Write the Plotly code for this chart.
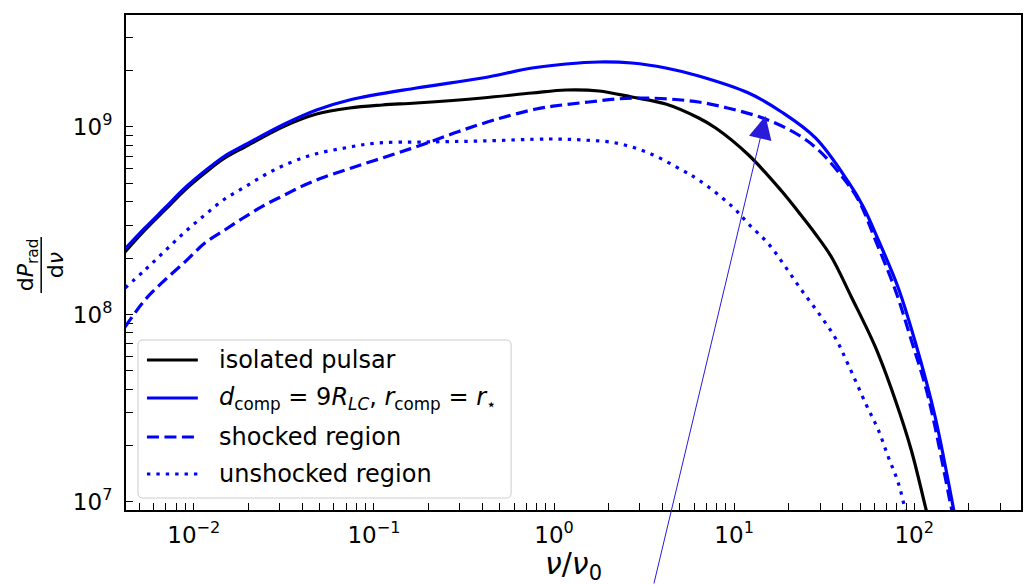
import plotly.graph_objects as go

# Spectral power dP_rad/dnu versus nu/nu0

# isolated pulsar
nu_iso = [0.004147, 0.005352, 0.006908, 0.008916, 0.01151, 0.01485, 0.01917, 0.03193,
          0.04801, 0.07314, 0.1114, 0.1719, 0.3992, 0.7553, 1.166, 1.776, 2.705, 4.174, 6.359,
          7.900, 12.03, 18.34, 22.77, 28.29, 34.69, 44.77, 60.80, 78.48, 96.25, 116.5, 119.6]
P_iso = [2.154e8, 2.823e8, 3.609e8, 4.613e8, 5.684e8, 6.834e8, 7.822e8, 1.012e9,
         1.173e9, 1.263e9, 1.310e9, 1.343e9, 1.428e9, 1.518e9, 1.575e9, 1.556e9, 1.445e9, 1.327e9, 1.117e9,
         9.878e8, 7.091e8, 4.557e8, 3.521e8, 2.687e8, 2.026e8, 1.240e8, 6.710e7, 3.499e7, 1.894e7,
         9.066e6, 8.2e6]

# companion at d_comp = 9 R_LC, total
nu_tot = [0.004147, 0.005352, 0.006908, 0.008916, 0.01151, 0.01485, 0.01917, 0.03193,
          0.04801, 0.07314, 0.1719, 0.3992, 0.7553, 1.166, 1.776, 2.705, 4.174, 6.359,
          12.03, 18.34, 28.29, 43.09, 52.19, 63.18, 81.55, 101.3, 130.7, 164.5, 170.9]
P_tot = [2.236e8, 2.893e8, 3.698e8, 4.728e8, 5.825e8, 7.004e8, 8.017e8, 1.038e9,
         1.232e9, 1.393e9, 1.614e9, 1.825e9, 2.064e9, 2.168e9, 2.222e9, 2.194e9, 2.064e9, 1.871e9,
         1.518e9, 1.202e9, 8.738e8, 5.090e8, 3.745e8, 2.497e8, 1.385e8, 7.134e7, 2.840e7, 9.404e6, 7.82e6]

# shocked region
nu_sh = [0.004147, 0.005352, 0.006908, 0.008916, 0.01151, 0.01485, 0.01917, 0.02474,
         0.03193, 0.04121, 0.05318, 0.08102, 0.1250, 0.1905, 0.2902, 0.4652, 0.7949,
         1.107, 1.563, 2.206, 3.073, 4.336, 6.359, 9.685, 14.94, 22.77, 29.38,
         37.93, 48.96, 60.80, 78.48, 96.25, 119.6, 160.3, 166.6]
P_sh = [8.577e7, 1.195e8, 1.528e8, 1.905e8, 2.406e8, 2.823e8, 3.311e8, 3.837e8,
        4.339e8, 4.906e8, 5.412e8, 6.194e8, 7.091e8, 8.117e8, 9.404e8, 1.090e9, 1.247e9,
        1.310e9, 1.359e9, 1.410e9, 1.428e9, 1.410e9, 1.359e9, 1.247e9, 1.103e9, 9.064e8, 7.540e8,
        5.754e8, 4.080e8, 2.497e8, 1.351e8, 7.311e7, 3.631e7, 9.404e6, 7.92e6]

# unshocked region
nu_un = [0.004147, 0.005352, 0.006908, 0.008916, 0.01151, 0.01485, 0.01917, 0.02474,
         0.03193, 0.04505, 0.06864, 0.1046, 0.1905, 0.3992, 0.9382, 1.429, 2.206, 3.360,
         5.119, 6.359, 9.685, 12.03, 15.53, 19.29, 23.66, 29.38, 36.50, 43.09, 54.22,
         63.18, 71.78, 81.55, 91.46]
P_un = [1.385e8, 1.727e8, 2.182e8, 2.754e8, 3.395e8, 4.130e8, 4.786e8, 5.546e8,
        6.270e8, 7.091e8, 7.727e8, 8.217e8, 8.318e8, 8.421e8, 8.630e8, 8.526e8, 8.217e8, 7.267e8,
        5.897e8, 5.216e8, 3.791e8, 3.039e8, 2.377e8, 1.792e8, 1.351e8, 1.019e8, 7.492e7, 5.379e7, 3.292e7,
        2.421e7, 1.738e7, 1.263e7, 8.12e6]

legend_labels = [
    "isolated pulsar",
    "<i>d</i><sub>comp</sub> = 9<i>R</i><sub><i>LC</i></sub>, <i>r</i><sub>comp</sub> = <i>r</i><sub>⋆</sub>",
    "shocked region",
    "unshocked region",
]

BLUE = "#0000ff"
LW = 3.2
DASH = "12px,5.5px"
DOT = "3.4px,6px"
FONT = "DejaVu Sans"

styles = [
    dict(color="black", dash="solid"),
    dict(color=BLUE, dash="solid"),
    dict(color=BLUE, dash=DASH),
    dict(color=BLUE, dash=DOT),
]
series = [(nu_iso, P_iso), (nu_tot, P_tot), (nu_sh, P_sh), (nu_un, P_un)]

fig = go.Figure()
for (xs, ys), st, name in zip(series, styles, legend_labels):
    fig.add_trace(go.Scatter(
        x=xs, y=ys, mode="lines", name=name, showlegend=False,
        line=dict(color=st["color"], width=LW, dash=st["dash"],
                  shape="spline", smoothing=1.0),
    ))


# log tick marks: labels only at decades
def log_ticks(lo_dec, hi_dec, lo, hi):
    vals, texts = [], []
    for d in range(lo_dec, hi_dec + 1):
        for k in range(1, 10):
            v = k * 10.0 ** d
            if lo <= v <= hi:
                vals.append(v)
                texts.append("10<sup>%s</sup>" % str(d).replace("-", "−") if k == 1 else "")
    return vals, texts


x_lo, x_hi = -2.3767, 2.5928
y_lo, y_hi = 6.9573, 9.5973
xt_vals, xt_text = log_ticks(-3, 2, 10 ** x_lo, 10 ** x_hi)
yt_vals, yt_text = log_ticks(6, 9, 10 ** y_lo, 10 ** y_hi)

axis_common = dict(
    type="log", showgrid=False, zeroline=False,
    showline=True, linewidth=2, linecolor="black", mirror=True,
    ticks="inside", ticklen=7, tickwidth=1.3, tickcolor="black",
    tickfont=dict(family=FONT, size=23, color="black"),
)

fig.update_xaxes(range=[x_lo, x_hi], tickmode="array", tickvals=xt_vals, ticktext=xt_text,
                 ticklabelstandoff=3,
                 title=dict(text="<i>ν</i>/<i>ν</i><sub>0</sub>",
                            font=dict(family=FONT, size=30, color="black"), standoff=2),
                 **axis_common)
fig.update_yaxes(range=[y_lo, y_hi], tickmode="array", tickvals=yt_vals, ticktext=yt_text,
                 ticklabelstandoff=7, **axis_common)

W, H = 1028, 585
ML, MR, MT, MB = 126, 5, 15, 75
PW, PH = W - ML - MR, H - MT - MB


def px_x(px):
    return (px - ML) / PW


def px_y(py):
    return (H - MB - py) / PH


shapes = []
annotations = []

# y-axis label drawn as a stacked fraction dP_rad / dnu
annotations.append(dict(
    x=px_x(27), y=px_y(265), xref="paper", yref="paper",
    text="d<i>P</i><sub>rad</sub>", showarrow=False, textangle=-90,
    xanchor="center", yanchor="middle",
    font=dict(family=FONT, size=22, color="black"),
))
annotations.append(dict(
    x=px_x(55), y=px_y(265), xref="paper", yref="paper",
    text="d<i>ν</i>", showarrow=False, textangle=-90,
    xanchor="center", yanchor="middle",
    font=dict(family=FONT, size=22, color="black"),
))
shapes.append(dict(type="line", xref="paper", yref="paper",
                   x0=px_x(41), x1=px_x(41), y0=px_y(237), y1=px_y(293),
                   line=dict(color="black", width=1.5)))

# legend frame
bx0, bx1, by0, by1, r = 138, 512, 340, 498, 5
rx, ry = r / PW, r / PH
X0, X1, Y0, Y1 = px_x(bx0), px_x(bx1), px_y(by1), px_y(by0)
path = (f"M{X0 + rx},{Y0} L{X1 - rx},{Y0} Q{X1},{Y0} {X1},{Y0 + ry} "
        f"L{X1},{Y1 - ry} Q{X1},{Y1} {X1 - rx},{Y1} "
        f"L{X0 + rx},{Y1} Q{X0},{Y1} {X0},{Y1 - ry} "
        f"L{X0},{Y0 + ry} Q{X0},{Y0} {X0 + rx},{Y0} Z")
shapes.append(dict(type="path", xref="paper", yref="paper", path=path,
                   fillcolor="rgba(255,255,255,0.8)", line=dict(color="#cccccc", width=1),
                   layer="above"))

row_y = [360, 398, 437, 474]
for ry_px, st, label in zip(row_y, styles, legend_labels):
    shapes.append(dict(type="line", xref="paper", yref="paper",
                       x0=px_x(147), x1=px_x(198), y0=px_y(ry_px), y1=px_y(ry_px),
                       line=dict(color=st["color"], width=LW, dash=st["dash"]),
                       layer="above"))
    annotations.append(dict(x=px_x(217), y=px_y(ry_px), xref="paper", yref="paper",
                            text=label, showarrow=False, xanchor="left", yanchor="middle",
                            font=dict(family=FONT, size=24, color="black")))

# arrow pointing at the shocked-region shoulder
annotations.append(dict(
    x=px_x(767), y=px_y(116), xref="paper", yref="paper", text="",
    showarrow=True, ax=-112, ay=469, axref="pixel", ayref="pixel",
    arrowhead=2, arrowsize=4.6, arrowwidth=1, arrowcolor="#2a1ad9", standoff=0,
))

fig.update_layout(
    width=W, height=H,
    margin=dict(l=ML, r=MR, t=MT, b=MB),
    paper_bgcolor="white", plot_bgcolor="white",
    font=dict(family=FONT, color="black"),
    shapes=shapes, annotations=annotations,
    showlegend=False,
)

fig.write_html("out.html")
